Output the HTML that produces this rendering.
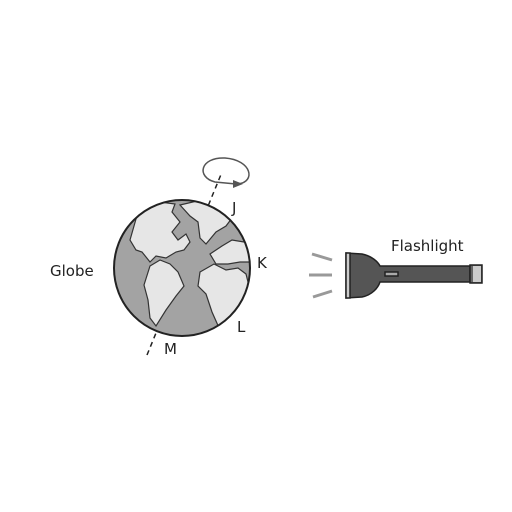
<!DOCTYPE html>
<html><head><style>body{margin:0;background:#fff}svg{display:block}text{font-family:"DejaVu Sans","Liberation Sans",sans-serif;font-size:15px;fill:#222}</style></head>
<body>
<svg width="512" height="512" viewBox="0 0 512 512">
<defs><clipPath id="gc"><circle cx="182" cy="268" r="68"/></clipPath></defs>
<line x1="147" y1="355" x2="222" y2="172" stroke="#222" stroke-width="1.5" stroke-dasharray="5,4"/>
<g>
<circle cx="182" cy="268" r="68" fill="#a3a3a3"/>
<g clip-path="url(#gc)" fill="#e6e6e6" stroke="#333" stroke-width="1.2">
<path d="M138,212 L160,202 L175,204 L172,212 L180,222 L172,232 L178,240 L186,234 L190,242 L184,250 L176,252 L166,258 L156,256 L150,262 L142,252 L136,250 L130,240 Z"/>
<path d="M180,205 L210,198 L238,210 L226,226 L216,232 L206,244 L200,238 L198,222 L190,216 Z"/>
<path d="M150,266 L160,260 L170,264 L178,272 L184,286 L176,296 L166,310 L156,326 L150,318 L148,300 L144,285 Z"/>
<path d="M200,272 L214,264 L226,270 L238,268 L246,274 L250,290 L244,306 L232,320 L220,330 L212,312 L206,294 L198,286 Z"/>
<path d="M210,254 L222,246 L232,240 L244,242 L254,240 L254,262 L240,262 L228,264 L216,264 Z"/>
</g>
<circle cx="182" cy="268" r="68" fill="none" stroke="#222" stroke-width="2"/>
</g>
<path d="M238,184 C256,182 252,160 225,158 C200,157 196,177 215,182 L236,184" fill="none" stroke="#555" stroke-width="1.5"/>
<path d="M233,180 L243,184 L233,188 Z" fill="#555"/>
<text x="232" y="213">J</text>
<text x="257" y="268">K</text>
<text x="237" y="332">L</text>
<text x="164" y="354">M</text>
<text x="50" y="276">Globe</text>
<text x="391" y="251">Flashlight</text>
<g stroke="#999" stroke-width="3">
<line x1="312" y1="254" x2="332" y2="260"/><line x1="309" y1="275" x2="332" y2="275"/><line x1="313" y1="297" x2="332" y2="291"/>
</g>
<g stroke="#222" stroke-width="1.5">
<path d="M346,253 L362,254 C372,256 378,262 380,266 L470,266 L470,282 L380,282 C378,288 372,295 362,297 L346,298 Z" fill="#555"/>
<rect x="346" y="253" width="4" height="45" fill="#ccc"/>
<rect x="385" y="272" width="13" height="4" fill="#aaa"/>
<rect x="470" y="265" width="12" height="18" fill="#666"/>
<rect x="473" y="266" width="8" height="16" fill="#ccc" stroke="none"/>
</g>
</svg>
</body></html>
